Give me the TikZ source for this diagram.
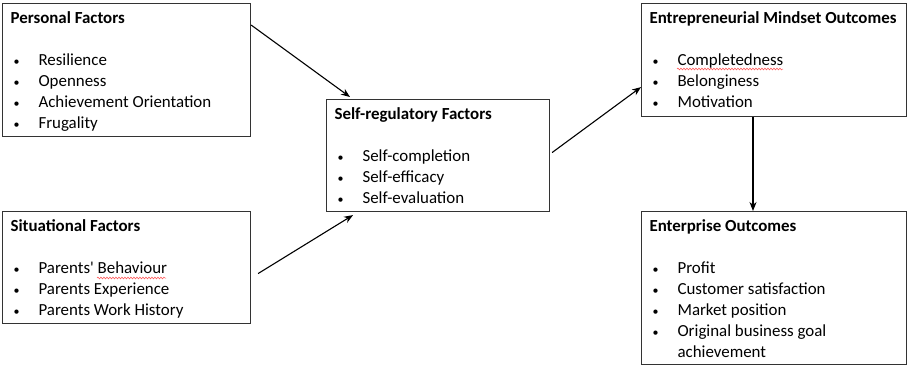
\documentclass[tikz,border=0pt]{standalone}
\usepackage{fontspec}
\setmainfont{Carlito}
\newfontfamily\plainf{Carlito}
\usetikzlibrary{arrows.meta,decorations.pathmorphing}
\newcommand{\itm}[1]{\hangindent=36pt\hangafter=1\noindent\hspace*{11pt}\makebox[25pt][l]{\fontsize{12}{12}\selectfont\textbullet}#1\par}
\newcommand{\ttl}[1]{\noindent\hspace*{8pt}\strut\textbf{#1}\par\mbox{}\par}
\newcommand{\boxtext}[3]{\parbox[c][#2][t]{#1}{\fontsize{16.9}{21}\selectfont\raggedright\vspace*{5pt}#3}}
\tikzset{
  box/.style={draw=black!80, line width=1.1pt, inner sep=0pt, anchor=north west},
  arr/.style={line width=1.1pt, -{Stealth[length=9pt,width=7pt]}},
  squig/.style={draw=red!70, line width=0.5pt, decorate, decoration={snake, amplitude=0.9pt, segment length=3pt}}
}
\begin{document}
\begin{tikzpicture}[x=1pt,y=-1pt]
\useasboundingbox[fill=white] (0,0) rectangle (908,365);
\node[box] (pf) at (2,3) {\boxtext{248pt}{133pt}{\ttl{Personal Factors}\itm{Resilience}\itm{Openness}\itm{Achievement Orientation}\itm{Frugality}}};
\node[box] (sf) at (2,211) {\boxtext{248pt}{112pt}{\ttl{Situational Factors}\itm{Parents{\plainf'} Behaviour}\itm{Parents Experience}\itm{Parents Work History}}};
\node[box] (sr) at (326,99) {\boxtext{223pt}{112pt}{\ttl{Self-regulatory Factors}\itm{Self-completion}\itm{Self-efficacy}\itm{Self-evaluation}}};
\node[box] (em) at (641,3) {\boxtext{265pt}{113pt}{\ttl{Entrepreneurial Mindset Outcomes}\itm{Completedness}\itm{Belonginess}\itm{Motivation}}};
\node[box] (eo) at (641,211) {\boxtext{265pt}{153pt}{\ttl{Enterprise Outcomes}\itm{Profit}\itm{Customer satisfaction}\itm{Market position}\itm{Original business goal\newline achievement}}};
\draw[arr] ([yshift=-22pt]pf.north east) -- ([xshift=24pt,yshift=2pt]sr.north west);
\draw[arr] ([xshift=7pt,yshift=-6pt]sf.east) -- ([xshift=27pt,yshift=-3pt]sr.south west);
\draw[arr] ([xshift=2pt,yshift=3pt]sr.east) -- ([yshift=30pt]em.south west);
\draw[arr] ([xshift=112pt]em.south west) -- ([xshift=112pt]eo.north west);
\draw[squig] ([xshift=36pt,yshift=-66pt]em.north west) -- ([xshift=142pt,yshift=-66pt]em.north west);
\draw[squig] ([xshift=95pt,yshift=-67pt]sf.north west) -- ([xshift=164pt,yshift=-67pt]sf.north west);
\end{tikzpicture}
\end{document}
